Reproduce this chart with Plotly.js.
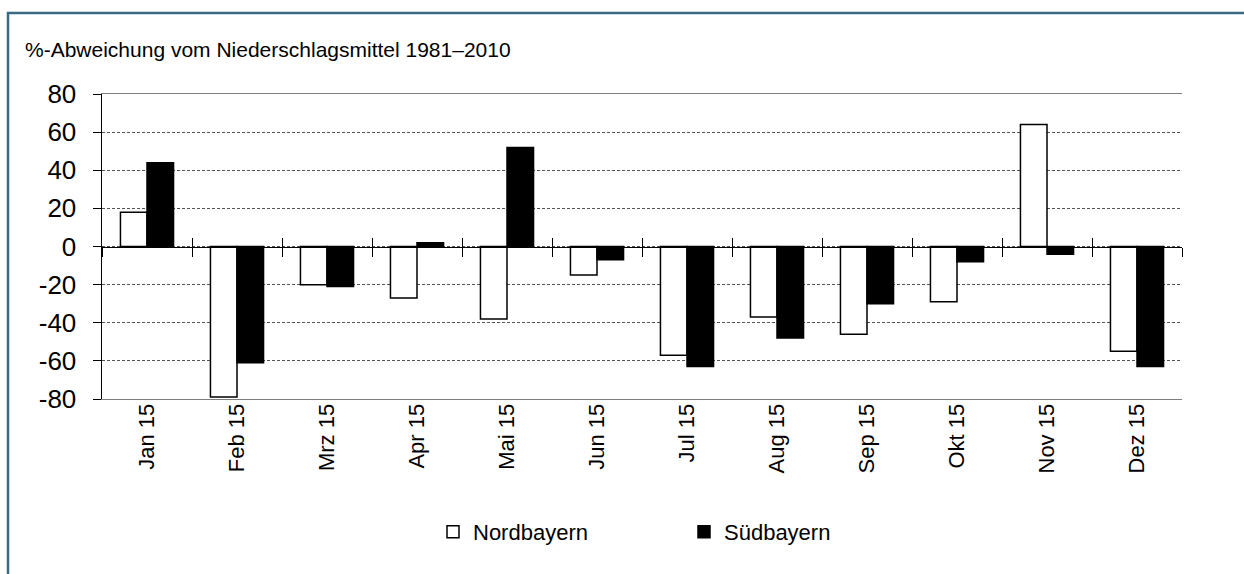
<!DOCTYPE html>
<html>
<head>
<meta charset="utf-8">
<script src="https://cdn.plot.ly/plotly-3.0.1.min.js"></script>
<style>
  html, body { margin: 0; padding: 0; background: #ffffff; }
  #chart { width: 1244px; height: 574px; }
</style>
</head>
<body>
<div id="chart"></div>
<script>
// ---- data ----
const months = ["Jan 15", "Feb 15", "Mrz 15", "Apr 15", "Mai 15", "Jun 15",
                "Jul 15", "Aug 15", "Sep 15", "Okt 15", "Nov 15", "Dez 15"];
const nordbayern = [18, -79, -20, -27, -38, -15, -57, -37, -46, -29, 64, -55];
const suedbayern = [44, -61, -21, 2, 52, -7, -63, -48, -30, -8, -4, -63];
const yTicks = [-80, -60, -40, -20, 0, 20, 40, 60, 80];
const titleText = "%-Abweichung vom Niederschlagsmittel 1981\u20132010";
const seriesNames = ["Nordbayern", "S\u00fcdbayern"];

const FONT = "'Liberation Sans', Arial, sans-serif";

const traces = [
  {
    type: "bar", name: seriesNames[0], x: months, y: nordbayern,
    marker: { color: "#ffffff", line: { color: "#000000", width: 1.5 } },
    hoverinfo: "x+y+name"
  },
  {
    type: "bar", name: seriesNames[1], x: months, y: suedbayern,
    marker: { color: "#000000", line: { color: "#000000", width: 1.5 } },
    hoverinfo: "x+y+name"
  },
  // helper traces so the zero-line tick axes are drawn
  { type: "bar", x: months, y: months.map(() => null), xaxis: "x2", showlegend: false, hoverinfo: "skip" },
  { type: "bar", x: months, y: months.map(() => null), xaxis: "x3", showlegend: false, hoverinfo: "skip" }
];

const zeroAxis = {
  type: "category", categoryorder: "array", categoryarray: months,
  range: [-0.5, months.length - 0.5],
  overlaying: "x", anchor: "free", position: 0.5,
  tickson: "boundaries", ticklen: 9, tickcolor: "#000000", tickwidth: 1,
  showticklabels: false, showgrid: false, zeroline: false, fixedrange: true
};

const layout = {
  width: 1244, height: 574,
  margin: { l: 102, r: 62, t: 94, b: 175, pad: 0 },
  paper_bgcolor: "#ffffff", plot_bgcolor: "#ffffff",
  font: { family: FONT, color: "#000000" },
  showlegend: true,
  barmode: "group", bargap: 0.41, bargroupgap: 0,
  title: {
    text: titleText,
    font: { family: FONT, size: 21, color: "#000000" },
    xref: "container", yref: "container",
    x: 25 / 1244, xanchor: "left",
    y: 1 - 50 / 574, yanchor: "middle"
  },
  xaxis: {
    type: "category", categoryorder: "array", categoryarray: months,
    range: [-0.5, months.length - 0.5],
    tickangle: -90, ticks: "", ticklabelstandoff: -5,
    tickfont: { family: FONT, size: 22, color: "#000000" },
    showline: true, linecolor: "#7f7f7f", linewidth: 1, mirror: true,
    showgrid: false, zeroline: false, fixedrange: true
  },
  xaxis2: Object.assign({}, zeroAxis, { ticks: "outside", showline: true, linecolor: "#000000", linewidth: 1 }),
  xaxis3: Object.assign({}, zeroAxis, { ticks: "inside", showline: false }),
  yaxis: {
    range: [-80, 80], tickmode: "array", tickvals: yTicks,
    ticktext: yTicks.map(String),
    ticks: "outside", ticklen: 8, tickcolor: "#000000", tickwidth: 1,
    ticklabelstandoff: 11,
    tickfont: { family: FONT, size: 26, color: "#000000" },
    showline: true, linecolor: "#000000", linewidth: 1.5,
    showgrid: true, gridcolor: "#555555", gridwidth: 1, griddash: "3px,2px",
    zeroline: false, fixedrange: true
  },
  legend: {
    orientation: "h", x: (433 - 102) / 1080, xanchor: "left",
    y: (399 - 532) / 305, yanchor: "middle",
    entrywidth: 206, itemwidth: 30,
    font: { family: FONT, size: 22, color: "#000000" },
    bgcolor: "rgba(0,0,0,0)"
  },
  shapes: [
    {
      type: "path", xref: "paper", yref: "paper", layer: "above",
      path: "M " + ((8 - 102) / 1080) + "," + ((399 - 620) / 305) +
            " L " + ((8 - 102) / 1080) + "," + ((399 - 13) / 305) +
            " L " + ((1270 - 102) / 1080) + "," + ((399 - 13) / 305),
      line: { color: "#3b6a82", width: 2.5 }
    }
  ]
};

Plotly.newPlot("chart", traces, layout, { displayModeBar: false, staticPlot: true });
</script>
</body>
</html>
